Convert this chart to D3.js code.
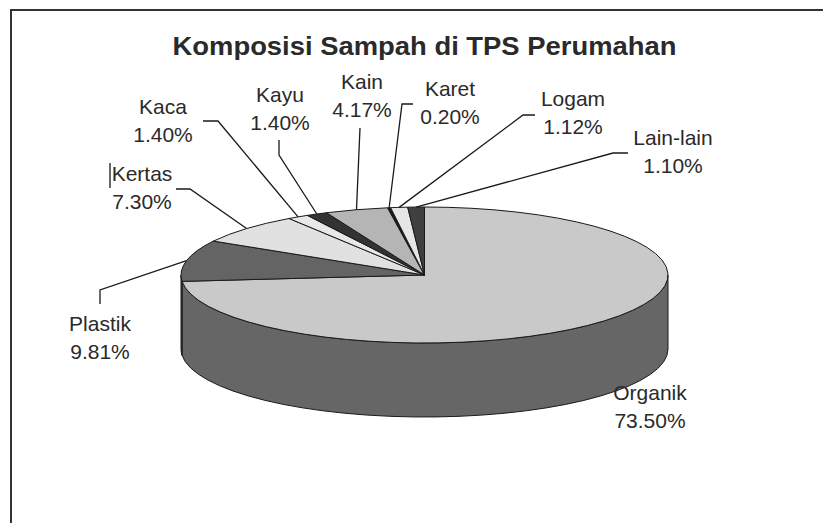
<!DOCTYPE html>
<html>
<head>
<meta charset="utf-8">
<script src="https://cdn.jsdelivr.net/npm/d3@7"></script>
<style>
  body { margin: 0; background: #fff; }
  text { font-family: "Liberation Sans", Arial, sans-serif; fill: #2a2a2a; }
</style>
</head>
<body>
<script>
var width = 823, height = 523;

// data
var categories = ["Organik", "Plastik", "Kertas", "Kaca", "Kayu", "Kain", "Karet", "Logam", "Lain-lain"];
var percents   = [73.50, 9.81, 7.30, 1.40, 1.40, 4.17, 0.20, 1.12, 1.10];
var pctLabels  = ["73.50%", "9.81%", "7.30%", "1.40%", "1.40%", "4.17%", "0.20%", "1.12%", "1.10%"];
var title = "Komposisi Sampah di TPS Perumahan";

// styling / layout
var topColors  = ["#c9c9c9", "#646464", "#e1e1e1", "#e8e8e8", "#333333", "#b5b5b5", "#1a1a1a", "#e6e6e6", "#404040"];
var sideColors = ["#666666", "#4e4e4e", "#b0b0b0", "#b8b8b8", "#222222", "#8a8a8a", "#111111", "#b4b4b4", "#2c2c2c"];

var cx = 424.5, cy = 275, rx = 243.5, ry = 68, depth = 74;

// label anchor (text centre x, first baseline y) and leader elbows
var labelLayout = {
  "Organik":   {x: 650, y: 400, leader: null},
  "Plastik":   {x: 100, y: 331, leader: [[100, 304], [100, 290]]},
  "Kertas":    {x: 142, y: 181, leader: [[176, 189], [190, 189]]},
  "Kaca":      {x: 163, y: 114, leader: [[203, 121], [218, 121]]},
  "Kayu":      {x: 280, y: 102, leader: [[279, 140], [279, 155]]},
  "Kain":      {x: 362, y: 89,  leader: [[360, 128]]},
  "Karet":     {x: 450, y: 96,  leader: [[413, 104], [402, 104]]},
  "Logam":     {x: 573, y: 106, leader: [[535, 115], [523, 115]]},
  "Lain-lain": {x: 673, y: 145, leader: [[628, 153], [613, 153]]}
};
var lineGap = 28;

var svg = d3.select("body").append("svg")
    .attr("width", width)
    .attr("height", height);

// frame (runs off the right and bottom edges)
svg.append("rect")
    .attr("x", 11)
    .attr("y", 10)
    .attr("width", 900)
    .attr("height", 600)
    .attr("fill", "none")
    .attr("stroke", "#333")
    .attr("stroke-width", 2);

svg.append("text")
    .attr("x", cx)
    .attr("y", 55)
    .attr("text-anchor", "middle")
    .attr("textLength", 504)
    .attr("lengthAdjust", "spacingAndGlyphs")
    .style("font-size", "25px")
    .style("font-weight", "bold")
    .text(title);

var data = categories.map(function (c, i) {
  return {name: c, value: percents[i], label: pctLabels[i], top: topColors[i], side: sideColors[i]};
});

var pie = d3.pie()
    .sort(null)
    .value(d => d.value)
    .startAngle(0)
    .endAngle(2 * Math.PI);

var arcs = pie(data);

function px(a) { return cx + rx * Math.sin(a); }
function py(a, dy) { return cy - ry * Math.cos(a) + (dy || 0); }

function sidePath(a0, a1) {
  var large = (a1 - a0) > Math.PI ? 1 : 0;
  return "M" + px(a0) + "," + py(a0) +
    " A" + rx + "," + ry + " 0 " + large + " 1 " + px(a1) + "," + py(a1) +
    " L" + px(a1) + "," + py(a1, depth) +
    " A" + rx + "," + ry + " 0 " + large + " 0 " + px(a0) + "," + py(a0, depth) + " Z";
}

function topPath(a0, a1) {
  var large = (a1 - a0) > Math.PI ? 1 : 0;
  return "M" + cx + "," + cy +
    " L" + px(a0) + "," + py(a0) +
    " A" + rx + "," + ry + " 0 " + large + " 1 " + px(a1) + "," + py(a1) + " Z";
}

// front walls: only the part between 90deg and 270deg shows
var sides = svg.append("g").attr("class", "sides");
arcs.forEach(function (d) {
  var a0 = Math.max(d.startAngle, Math.PI / 2);
  var a1 = Math.min(d.endAngle, 3 * Math.PI / 2);
  if (a1 <= a0) return;
  sides.append("path")
      .attr("d", sidePath(a0, a1))
      .attr("fill", d.data.side)
      .attr("stroke", "#1a1a1a")
      .attr("stroke-width", 1)
      .attr("stroke-linejoin", "round");
});

svg.append("g")
    .attr("class", "tops")
    .selectAll("path")
    .data(arcs)
    .enter()
    .append("path")
    .attr("d", d => topPath(d.startAngle, d.endAngle))
    .attr("fill", d => d.data.top)
    .attr("stroke", "#1a1a1a")
    .attr("stroke-width", 1)
    .attr("stroke-linejoin", "round");

// leader lines end at the slice's mid angle on the rim
var leaders = svg.append("g").attr("class", "leaders");
arcs.forEach(function (d) {
  var lay = labelLayout[d.data.name];
  if (!lay.leader) return;
  var mid = (d.startAngle + d.endAngle) / 2;
  var pts = lay.leader.concat([[px(mid), py(mid)]]);
  leaders.append("path")
      .attr("d", d3.line()(pts))
      .attr("fill", "none")
      .attr("stroke", "#1a1a1a")
      .attr("stroke-width", 1.3);
});

// small stray tick left of "Kertas" in the original
leaders.append("line")
    .attr("x1", 110).attr("y1", 163)
    .attr("x2", 110).attr("y2", 188)
    .attr("stroke", "#1a1a1a")
    .attr("stroke-width", 1.3);

var labels = svg.append("g").attr("class", "labels");
arcs.forEach(function (d) {
  var lay = labelLayout[d.data.name];
  var t = labels.append("text")
      .attr("text-anchor", "middle")
      .style("font-size", "21px");
  t.append("tspan").attr("x", lay.x).attr("y", lay.y).text(d.data.name);
  t.append("tspan").attr("x", lay.x).attr("y", lay.y + lineGap).text(d.data.label);
});
</script>
</body>
</html>
